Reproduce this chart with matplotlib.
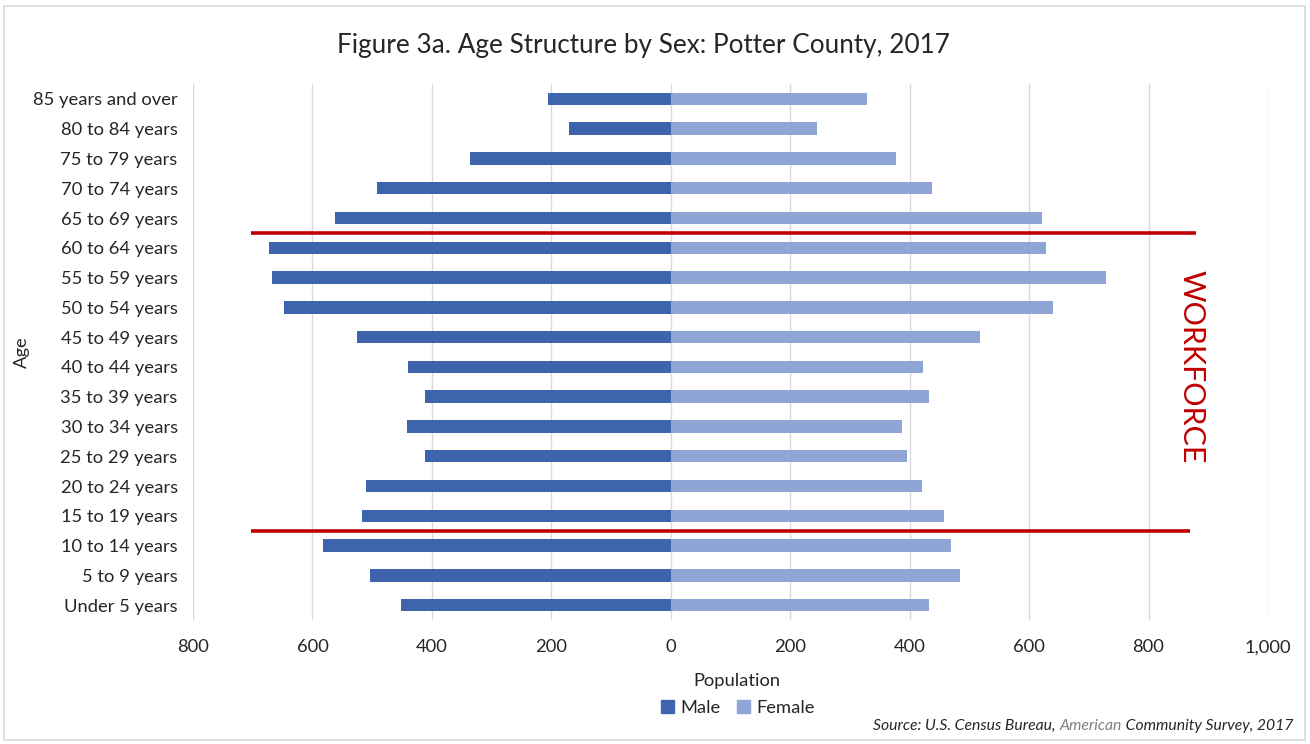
import matplotlib
matplotlib.use("Agg")
import matplotlib.pyplot as plt
from matplotlib.patches import Patch, Rectangle
from matplotlib.offsetbox import TextArea, HPacker, AnchoredOffsetbox

plt.rcParams['font.family'] = ['Lato', 'DejaVu Sans']

# --- Data (top row first) ---
age_groups = ["85 years and over", "80 to 84 years", "75 to 79 years", "70 to 74 years",
              "65 to 69 years", "60 to 64 years", "55 to 59 years", "50 to 54 years",
              "45 to 49 years", "40 to 44 years", "35 to 39 years", "30 to 34 years",
              "25 to 29 years", "20 to 24 years", "15 to 19 years", "10 to 14 years",
              "5 to 9 years", "Under 5 years"]
male = [205, 170, 337, 492, 562, 673, 667, 648, 525, 440, 412, 442, 412, 510, 517, 583, 503, 452]
female = [328, 245, 377, 437, 622, 628, 728, 640, 518, 423, 433, 387, 395, 420, 458, 470, 485, 432]
x_ticks = [-800, -600, -400, -200, 0, 200, 400, 600, 800, 1000]

# workforce bracket lines: (y between rows, x start, x end)
workforce_lines = [(4.5, -703, 880), (14.5, -703, 870)]

MALE_COLOR = "#3E64AD"
FEMALE_COLOR = "#8EA5D5"
RED = "#C00000"
TEXT = "#262626"
FS = 13.2

fig = plt.figure(figsize=(13.1, 7.44), dpi=100)
ax = fig.add_axes([193/1310, 1 - 620/744, (1268 - 193)/1310, (620 - 84)/744])

y = list(range(len(age_groups)))
ax.barh(y, [-m for m in male], height=0.42, color=MALE_COLOR, label="Male", zorder=2)
ax.barh(y, female, height=0.42, color=FEMALE_COLOR, label="Female", zorder=2)

ax.set_ylim(len(age_groups) - 0.5, -0.5)
ax.set_yticks(y)
ax.set_yticklabels(age_groups, fontsize=FS, color=TEXT)
ax.set_xlim(-800, 1000)
ax.set_xticks(x_ticks)
ax.set_xticklabels([f"{abs(v):,.0f}" for v in x_ticks], fontsize=FS, color=TEXT)
ax.tick_params(axis='both', length=0)
ax.tick_params(axis='x', pad=14)
ax.tick_params(axis='y', pad=11)
ax.grid(axis='x', color="#D9D9D9", linewidth=1, zorder=0)
ax.set_axisbelow(True)
for s in ax.spines.values():
    s.set_visible(False)

# workforce markers
for yy, x0, x1 in workforce_lines:
    ax.plot([x0, x1], [yy, yy], color=RED, linewidth=2.6, zorder=3, solid_capstyle='butt')
ax.text(1192/1310, 1 - 367/744, "WORKFORCE", transform=fig.transFigure, rotation=270,
        ha='center', va='center', fontsize=22, color=RED)

# titles and labels
fig.text(643/1310, 1 - 45/744, "Figure 3a. Age Structure by Sex: Potter County, 2017",
         ha='center', va='center', fontsize=18.8, color=TEXT)
fig.text(22/1310, 1 - 352/744, "Age", rotation=90, ha='center', va='center',
         fontsize=FS, color=TEXT)
fig.text(737/1310, 1 - 681/744, "Population", ha='center', va='center',
         fontsize=FS, color=TEXT)

handles = [Patch(color=MALE_COLOR, label="Male"), Patch(color=FEMALE_COLOR, label="Female")]
leg = fig.legend(handles=handles, loc='center', bbox_to_anchor=(738/1310, 1 - 708/744),
                 ncol=2, frameon=False, fontsize=FS, handlelength=0.7, handleheight=0.7,
                 handletextpad=0.35, columnspacing=0.9)
for t in leg.get_texts():
    t.set_color(TEXT)

# source line with grey "American"
parts = [("Source: U.S. Census Bureau, ", TEXT), ("American", "#808080"),
         (" Community Survey, 2017", TEXT)]
boxes = [TextArea(s, textprops=dict(fontsize=11.3, style='italic', color=c)) for s, c in parts]
pack = HPacker(children=boxes, align='baseline', pad=0, sep=0)
anch = AnchoredOffsetbox(loc='lower right', child=pack, pad=0, borderpad=0, frameon=False,
                         bbox_to_anchor=(1293/1310, 1 - 733/744), bbox_transform=fig.transFigure)
fig.add_artist(anch)

# outer border
fig.add_artist(Rectangle((4/1310, 4/744), 1 - 9/1310, 1 - 10/744, transform=fig.transFigure,
                         fill=False, edgecolor="#D9D9D9", linewidth=1.2))

fig.savefig("out.png", dpi=100)
